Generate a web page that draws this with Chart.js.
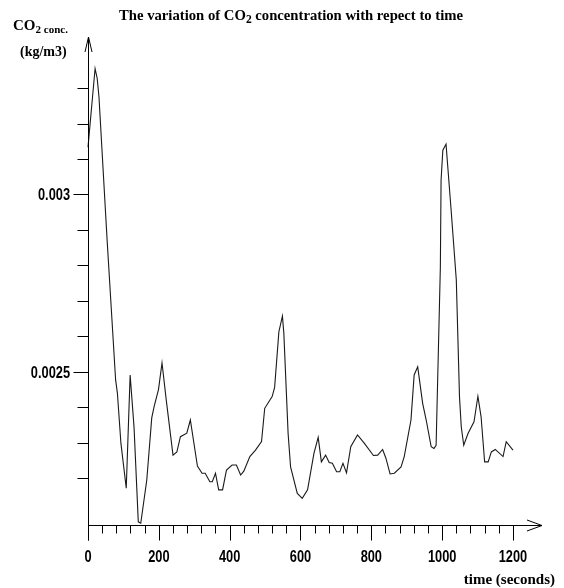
<!DOCTYPE html>
<html>
<head>
<meta charset="utf-8">
<title>CO2 concentration vs time</title>
<script src="https://cdn.jsdelivr.net/npm/chart.js@4/dist/chart.umd.min.js"></script>
<style>
  html, body { margin: 0; padding: 0; background: #fff; }
  #chart { display: block; }
</style>
</head>
<body>
<canvas id="chart" width="564" height="588"></canvas>
<script>
// ---------- data ----------
const TIME_S = [
  0, 20, 26, 31, 54, 78, 83, 93, 108, 119, 130, 142, 149, 166, 180, 187, 199, 209, 221, 240,
  251, 261, 279, 289, 309, 322, 331, 344, 351, 360, 369, 380, 391, 407, 419, 431, 440, 457, 473, 490,
  499, 520, 527, 539, 549, 553, 565, 572, 591, 605, 620, 638, 650, 659, 671, 681, 690, 702, 711, 720,
  730, 742, 761, 780, 806, 818, 832, 841, 853, 865, 884, 893, 912, 921, 931, 945, 955, 969, 977, 983,
  995, 997, 1002, 1011, 1025, 1040, 1049, 1054, 1061, 1073, 1090, 1101, 1110, 1120, 1130, 1139, 1150, 1172, 1181, 1200
];
const CO2_KG_M3 = [
  0.003133, 0.003355, 0.003327, 0.003275, 0.002871, 0.002477, 0.002440, 0.002298, 0.002172, 0.002491,
  0.002344, 0.002077, 0.002073, 0.002195, 0.002370, 0.002403, 0.002450, 0.002525, 0.002420, 0.002265,
  0.002274, 0.002317, 0.002327, 0.002364, 0.002234, 0.002214, 0.002214, 0.002190, 0.002190, 0.002214,
  0.002167, 0.002167, 0.002223, 0.002237, 0.002237, 0.002209, 0.002220, 0.002261, 0.002279, 0.002303,
  0.002397, 0.002430, 0.002456, 0.002613, 0.002657, 0.002609, 0.002327, 0.002232, 0.002157, 0.002143,
  0.002167, 0.002270, 0.002315, 0.002246, 0.002265, 0.002244, 0.002242, 0.002218, 0.002218, 0.002242,
  0.002215, 0.002289, 0.002322, 0.002299, 0.002264, 0.002265, 0.002281, 0.002257, 0.002212, 0.002214,
  0.002232, 0.002261, 0.002364, 0.002491, 0.002514, 0.002411, 0.002364, 0.002289, 0.002284, 0.002293,
  0.002796, 0.003040, 0.003125, 0.003142, 0.002961, 0.002759, 0.002430, 0.002345, 0.002293, 0.002326,
  0.002359, 0.002431, 0.002373, 0.002246, 0.002246, 0.002274, 0.002281, 0.002261, 0.002303, 0.002279
];

const X_TICKS = [];
for (let t = 0; t <= 1200; t += 40) X_TICKS.push(t);
const X_LABELS = [0, 200, 400, 600, 800, 1000, 1200];

const Y_TICKS = [0.0022, 0.0023, 0.0024, 0.0025, 0.0026, 0.0027, 0.0028, 0.0029, 0.003, 0.0031, 0.0032, 0.0033];
const Y_LABELS = [0.0025, 0.003];

const TITLE_PARTS = ["The variation of CO", "2", " concentration with repect to time"];
const Y_TITLE = ["CO", "2 conc.", "(kg/m3)"];
const X_TITLE = "time (seconds)";

// ---------- fonts ----------
const SERIF = "'Liberation Serif', 'Times New Roman', serif";
const SANS = "'Liberation Sans', Arial, sans-serif";

// narrow bold digits: squeeze a normal sans horizontally
function narrowText(ctx, text, x, y, align) {
  const squeeze = 0.8;
  const w = ctx.measureText(text).width * squeeze;
  let left = x;
  if (align === "center") left = x - w / 2;
  if (align === "right") left = x - w;
  ctx.save();
  ctx.textAlign = "left";
  ctx.translate(left, y);
  ctx.scale(squeeze, 1);
  ctx.fillText(text, 0, 0);
  ctx.restore();
}

// ---------- axes + text, drawn with the chart's own scales ----------
const axesPlugin = {
  id: "handAxes",
  afterDraw(chart) {
    const { ctx, chartArea: a, scales } = chart;
    const xs = scales.x, ys = scales.y;
    const x0 = Math.round(xs.getPixelForValue(0)) + 0.5;
    const yBase = Math.round(ys.getPixelForValue(ys.min)) + 0.5;

    ctx.save();
    ctx.strokeStyle = "#000";
    ctx.lineWidth = 1;

    // y axis with open arrow head
    ctx.beginPath();
    ctx.moveTo(x0, a.top);
    ctx.lineTo(x0, yBase + 15);
    ctx.moveTo(x0 - 3.5, a.top + 15);
    ctx.lineTo(x0, a.top);
    ctx.lineTo(x0 + 3.5, a.top + 15);
    ctx.stroke();

    // x axis with open arrow head
    ctx.beginPath();
    ctx.moveTo(x0, yBase);
    ctx.lineTo(a.right, yBase);
    ctx.moveTo(a.right - 15, yBase - 5.5);
    ctx.lineTo(a.right, yBase);
    ctx.lineTo(a.right - 15, yBase + 5.5);
    ctx.stroke();

    // x ticks
    ctx.beginPath();
    X_TICKS.forEach((t) => {
      const px = Math.round(xs.getPixelForValue(t)) + 0.5;
      const len = X_LABELS.includes(t) ? 15 : 8;
      ctx.moveTo(px, yBase);
      ctx.lineTo(px, yBase + len);
    });
    // y ticks
    Y_TICKS.forEach((v) => {
      const py = Math.round(ys.getPixelForValue(v)) + 0.5;
      const len = Y_LABELS.some((l) => Math.abs(l - v) < 1e-9) ? 15 : 11;
      ctx.moveTo(x0, py);
      ctx.lineTo(x0 - len, py);
    });
    ctx.stroke();

    // tick labels
    ctx.fillStyle = "#000";
    ctx.font = `bold 16px ${SANS}`;
    ctx.textBaseline = "alphabetic";
    X_LABELS.forEach((t) => {
      narrowText(ctx, String(t), xs.getPixelForValue(t), 562, "center");
    });
    Y_LABELS.forEach((v) => {
      narrowText(ctx, String(v), 70, ys.getPixelForValue(v) + 6, "right");
    });

    // title with subscript
    ctx.textAlign = "left";
    let x = 119;
    ctx.font = `bold 14.7px ${SERIF}`;
    ctx.fillText(TITLE_PARTS[0], x, 20);
    x += ctx.measureText(TITLE_PARTS[0]).width;
    ctx.font = `bold 11.5px ${SERIF}`;
    ctx.fillText(TITLE_PARTS[1], x, 23);
    x += ctx.measureText(TITLE_PARTS[1]).width;
    ctx.font = `bold 14.7px ${SERIF}`;
    ctx.fillText(TITLE_PARTS[2], x, 20);

    // y axis title
    x = 13;
    ctx.font = `bold 15px ${SERIF}`;
    ctx.fillText(Y_TITLE[0], x, 30);
    x += ctx.measureText(Y_TITLE[0]).width;
    ctx.font = `bold 11px ${SERIF}`;
    ctx.fillText(Y_TITLE[1], x, 33);
    ctx.font = `bold 14px ${SERIF}`;
    ctx.fillText(Y_TITLE[2], 20, 56);

    // x axis title
    ctx.textAlign = "right";
    ctx.font = `bold 15px ${SERIF}`;
    ctx.fillText(X_TITLE, 555, 584);

    ctx.restore();
  },
};

// ---------- chart ----------
function buildChart() {
  const ctx = document.getElementById("chart").getContext("2d");
  const points = TIME_S.map((t, i) => ({ x: t, y: CO2_KG_M3[i] }));

  return new Chart(ctx, {
    type: "line",
    data: {
      datasets: [
        {
          data: points,
          borderColor: "#1a1a1a",
          borderWidth: 1.1,
          pointRadius: 0,
          tension: 0,
          fill: false,
          clip: false,
        },
      ],
    },
    options: {
      responsive: false,
      animation: false,
      devicePixelRatio: 1,
      layout: { padding: { left: 88, right: 22, top: 37, bottom: 63 } },
      plugins: {
        legend: { display: false },
        title: { display: false },
        tooltip: { enabled: false },
      },
      scales: {
        x: { type: "linear", min: 0, max: 1282, display: false },
        y: { type: "linear", min: 0.002068, max: 0.003444, display: false },
      },
    },
    plugins: [axesPlugin],
  });
}

window.addEventListener("DOMContentLoaded", buildChart);
</script>
</body>
</html>
